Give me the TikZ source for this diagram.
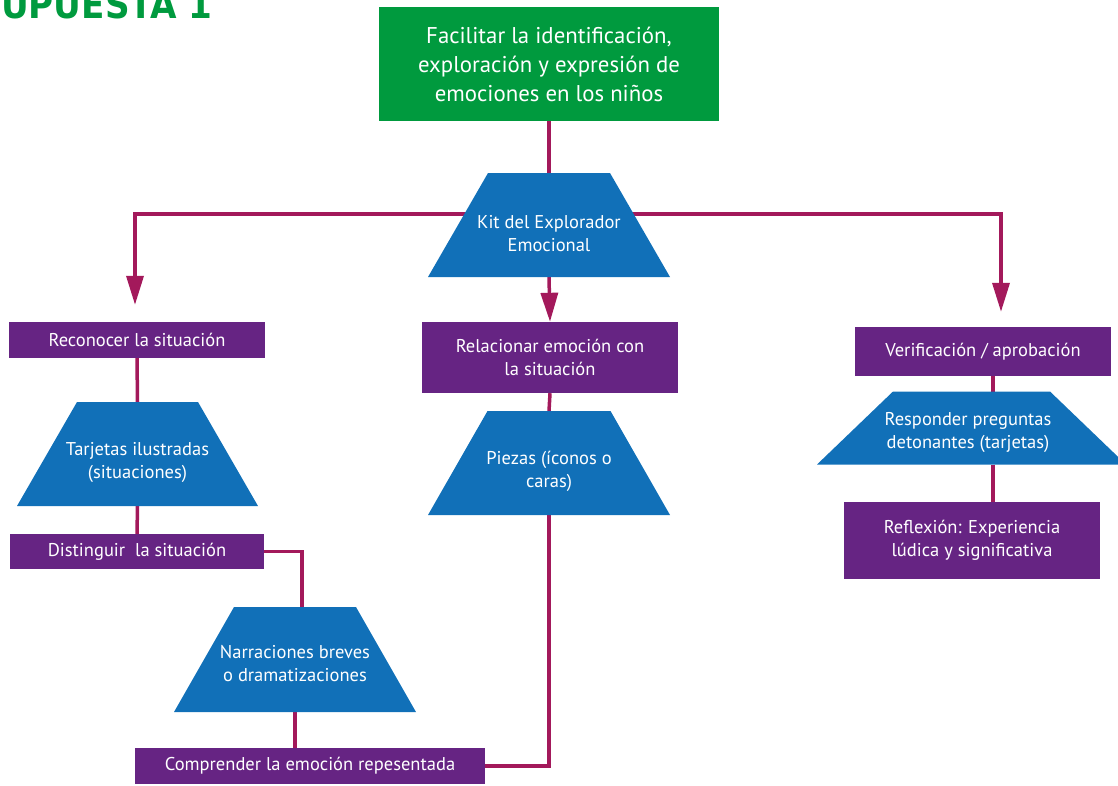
\documentclass[tikz,border=0pt]{standalone}
\usepackage{fontspec}
\setmainfont{PT Sans}
\newfontfamily\titlefont{DejaVu Sans Condensed}
\usetikzlibrary{arrows.meta,backgrounds}
\definecolor{cgreen}{HTML}{009A3E}
\definecolor{cblue}{HTML}{1170B8}
\definecolor{cpurple}{HTML}{662483}
\definecolor{cline}{HTML}{A3195B}
\tikzset{
  box/.style={rectangle, fill=cpurple, text=white, inner sep=0pt, align=center,
    font=\fontsize{18.5}{23}\selectfont},
  trapframe/.style={rectangle, inner sep=0pt, outer sep=0pt},
  traptext/.style={text=white, align=center, font=\fontsize{18.5}{23}\selectfont},
  trapfill/.style={fill=cblue},
  conn/.style={draw=cline, line width=3.5pt},
  tip/.style={-{Triangle[width=17pt,length=29pt]}}
}
\begin{document}
\begin{tikzpicture}[x=1pt,y=-1pt]
\useasboundingbox (0,0) rectangle (1118,785);
\clip (0,0) rectangle (1118,785);
% title (cropped)
\node[anchor=base west, inner sep=0pt, text=cgreen, font=\titlefont\bfseries\fontsize{38}{38}\selectfont] (title) at (1,18) {UPUESTA 1};
% top
\node[rectangle, fill=cgreen, text=white, inner sep=0pt, align=center, minimum width=340pt, minimum height=114pt,
  font=\fontsize{22.8}{29}\selectfont] (goal) at (549,64) {Facilitar la identificación,\\exploración y expresión de\\emociones en los niños};
% trapezoid frames (bottom width x height)
\node[trapframe, minimum width=242pt, minimum height=104pt] (kit) at (549,225) {};
\node[trapframe, minimum width=241pt, minimum height=104pt] (tarj) at (137.5,454) {};
\node[trapframe, minimum width=242pt, minimum height=105pt] (narr) at (295,659.5) {};
\node[trapframe, minimum width=242pt, minimum height=104pt] (piez) at (549,463) {};
\node[trapframe, minimum width=309pt, minimum height=73pt] (resp) at (971.5,428) {};
% trapezoid fills
\fill[trapfill] ([xshift=-61pt]kit.north) -- ([xshift=61pt]kit.north) -- (kit.south east) -- (kit.south west) -- cycle;
\fill[trapfill] ([xshift=-60.5pt]tarj.north) -- ([xshift=60.5pt]tarj.north) -- (tarj.south east) -- (tarj.south west) -- cycle;
\fill[trapfill] ([xshift=-61pt]narr.north) -- ([xshift=61pt]narr.north) -- (narr.south east) -- (narr.south west) -- cycle;
\fill[trapfill] ([xshift=-61.5pt]piez.north) -- ([xshift=61.5pt]piez.north) -- (piez.south east) -- (piez.south west) -- cycle;
\fill[trapfill] ([xshift=-78.5pt]resp.north) -- ([xshift=78.5pt]resp.north) -- (resp.south east) -- (resp.south west) -- cycle;
% trapezoid texts
\node[traptext] (kitT) at (549,234) {Kit del Explorador\\Emocional};
\node[traptext] (tarjT) at (137.5,462) {Tarjetas ilustradas\\(situaciones)};
\node[traptext] (narrT) at (295,664) {Narraciones breves\\o dramatizaciones};
\node[traptext] (piezT) at (549,471) {Piezas (íconos o\\caras)};
\node[traptext] (respT) at (968,432) {Responder preguntas\\detonantes (tarjetas)};
% boxes
\node[box, minimum width=256pt, minimum height=36pt] (reco) at (137,340) {Reconocer la situación};
\node[box, minimum width=254pt, minimum height=35pt] (dist) at (137,551.5) {Distinguir\ \ la situación};
\node[box, minimum width=350pt, minimum height=36pt] (comp) at (310,766) {Comprender la emoción repesentada};
\node[box, minimum width=256pt, minimum height=71pt] (rel) at (550,357.5) {Relacionar emoción con\\la situación};
\node[box, minimum width=256pt, minimum height=49pt] (veri) at (983,351.5) {Verificación / aprobación};
\node[box, minimum width=256pt, minimum height=77pt] (refl) at (972,540.5) {Reflexión: Experiencia\\lúdica y significativa};
% connectors
\begin{scope}[on background layer]
\draw[conn] (goal.south) -- (kit.north);
\draw[conn, tip, shorten >=17pt] ([yshift=11pt]kit.center) -| ([xshift=-2pt]reco.north);
\draw[conn, tip, shorten >=15pt] ([yshift=11pt]kit.center) -| ([xshift=18pt]veri.north);
\draw[conn, tip] (kit.south) -- (rel.north);
\draw[conn] (reco.south) -- (tarj.north);
\draw[conn] (tarj.south) -- (dist.north);
\draw[conn] (dist.east) -| ([xshift=7pt]narr.north);
\draw[conn] (narr.south) -- (narr.south |- comp.north);
\draw[conn] (comp.east) -| (piez.south);
\draw[conn] (rel.south) -- (piez.north);
\draw[conn] ([xshift=10pt]veri.south) -- ([xshift=10pt]veri.south |- resp.north);
\draw[conn] ([xshift=10pt]veri.south |- resp.south) -- ([xshift=10pt]veri.south |- refl.north);
\end{scope}
\end{tikzpicture}
\end{document}
